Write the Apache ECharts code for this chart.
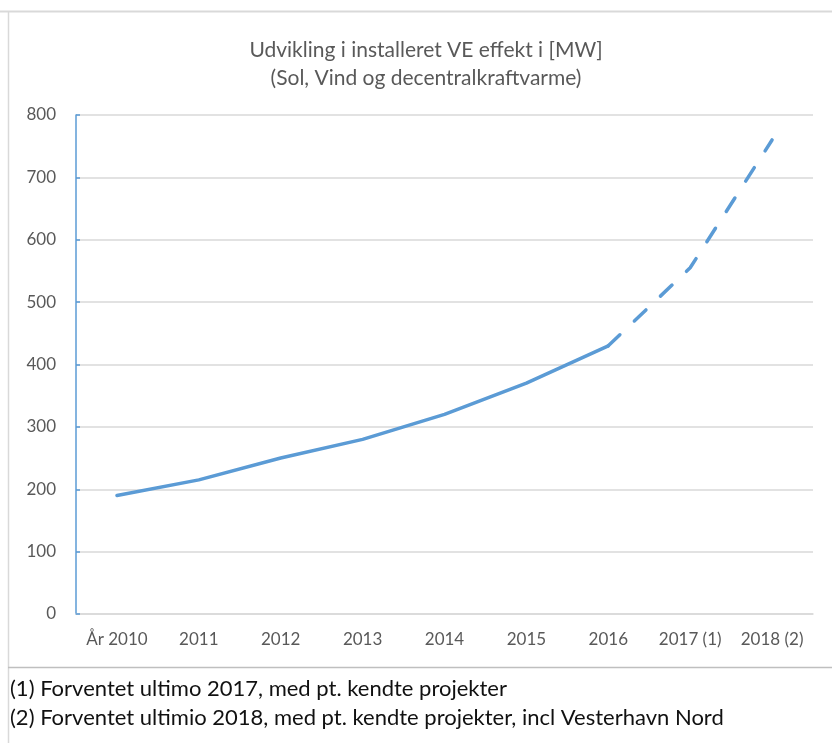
<!DOCTYPE html>
<html>
<head>
<meta charset="utf-8">
<script src="https://cdn.jsdelivr.net/npm/echarts@6/dist/echarts.min.js"></script>
<style>
  html, body { margin: 0; padding: 0; background: #ffffff; }
  #chart { width: 832px; height: 743px; }
</style>
</head>
<body>
<div id="chart"></div>
<script>
// Installed renewable capacity (MW): solar, wind and decentralised CHP
const categories = ['År 2010', '2011', '2012', '2013', '2014', '2015', '2016', '2017 (1)', '2018 (2)'];
const actualMW   = [190, 215, 250, 280, 320, 370, 430, null, null];
const expectedMW = [null, null, null, null, null, null, 430, 555, 760];
const yTicks     = [0, 100, 200, 300, 400, 500, 600, 700, 800];
const titleLines = ['Udvikling i installeret VE effekt i [MW]', '(Sol, Vind og decentralkraftvarme)'];
const footnotes  = [
  '(1) Forventet ultimo 2017, med pt. kendte projekter',
  '(2) Forventet ultimio 2018, med pt. kendte projekter, incl Vesterhavn Nord'
];

const FONT = 'Lato, "Open Sans", sans-serif';
const LINE_BLUE = '#5b9bd5';
const GRID_GRAY = '#d9d9d9';
const TEXT_GRAY = '#595959';

const chart = echarts.init(document.getElementById('chart'), null, { renderer: 'canvas' });

// sheet-style frame around the chart area and the notes below it
const frame = [
  { type: 'line', shape: { x1: 0, y1: 11.5, x2: 832, y2: 11.5 }, style: { stroke: GRID_GRAY, lineWidth: 2 } },
  { type: 'line', shape: { x1: 8.5, y1: 11, x2: 8.5, y2: 743 }, style: { stroke: GRID_GRAY, lineWidth: 1.5 } },
  { type: 'line', shape: { x1: 8, y1: 667.5, x2: 832, y2: 667.5 }, style: { stroke: '#bfbfbf', lineWidth: 1.5 } }
];
footnotes.forEach((t, i) => {
  frame.push({
    type: 'text', left: 10, top: 678 + i * 29,
    style: { text: t, font: '22px ' + FONT, fill: '#111111' }
  });
});

chart.setOption({
  animation: false,
  backgroundColor: '#ffffff',
  title: {
    text: titleLines.join('\n'),
    left: 421, top: 31, textAlign: 'center',
    textStyle: { fontFamily: FONT, fontSize: 21, fontWeight: 'normal', color: TEXT_GRAY, lineHeight: 28 }
  },
  graphic: frame,
  grid: { left: 76, right: 19, top: 115, bottom: 129 },
  xAxis: {
    type: 'category',
    data: categories,
    boundaryGap: true,
    axisLine: { show: true, lineStyle: { color: GRID_GRAY, width: 1.5 } },
    axisTick: { show: false },
    axisLabel: { fontFamily: FONT, fontSize: 17, color: TEXT_GRAY, margin: 17, interval: 0 }
  },
  yAxis: {
    type: 'value',
    min: yTicks[0], max: yTicks[yTicks.length - 1], interval: 100,
    axisLine: { show: true, lineStyle: { color: LINE_BLUE, width: 1.5 } },
    axisTick: { show: true, inside: true, length: 4, lineStyle: { color: LINE_BLUE, width: 1.5 } },
    axisLabel: { fontFamily: FONT, fontSize: 17, color: TEXT_GRAY, margin: 20 },
    splitLine: { show: true, lineStyle: { color: GRID_GRAY, width: 1.5 } }
  },
  series: [
    {
      name: 'Installeret',
      type: 'line',
      data: actualMW,
      symbol: 'none',
      lineStyle: { color: LINE_BLUE, width: 3.5, cap: 'round', join: 'round' }
    },
    {
      name: 'Forventet',
      type: 'line',
      data: expectedMW,
      symbol: 'none',
      lineStyle: { color: LINE_BLUE, width: 3.5, type: [16, 20], cap: 'round', join: 'round' }
    }
  ]
});
</script>
</body>
</html>
